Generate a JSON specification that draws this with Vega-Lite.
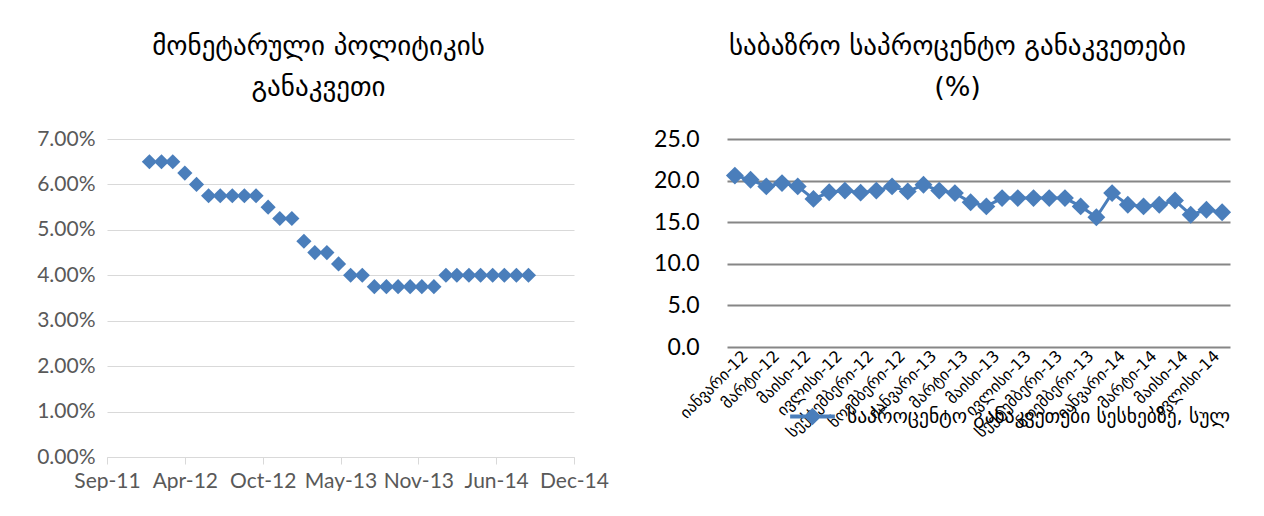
{
  "$schema": "https://vega.github.io/schema/vega-lite/v6.json",
  "background": "white",
  "padding": {"left": 0, "top": 33, "right": 0, "bottom": 0},
  "autosize": {"type": "pad"},
  "bounds": "flush",
  "spacing": 153,
  "config": {
    "view": {"stroke": null},
    "title": {"font": "DejaVu Sans", "fontWeight": "normal", "fontSize": 27, "color": "#000000", "lineHeight": 41, "anchor": "middle"}
  },
  "hconcat": [
    {
      "width": 467,
      "height": 318,
      "title": {"text": ["მონეტარული პოლიტიკის", "განაკვეთი"], "dx": -22, "offset": 26},
      "data": {"values": [
        {"date": "2012-01-01", "rate": 0.065},
        {"date": "2012-02-01", "rate": 0.065},
        {"date": "2012-03-01", "rate": 0.065},
        {"date": "2012-04-01", "rate": 0.0625},
        {"date": "2012-05-01", "rate": 0.06},
        {"date": "2012-06-01", "rate": 0.0575},
        {"date": "2012-07-01", "rate": 0.0575},
        {"date": "2012-08-01", "rate": 0.0575},
        {"date": "2012-09-01", "rate": 0.0575},
        {"date": "2012-10-01", "rate": 0.0575},
        {"date": "2012-11-01", "rate": 0.055},
        {"date": "2012-12-01", "rate": 0.0525},
        {"date": "2013-01-01", "rate": 0.0525},
        {"date": "2013-02-01", "rate": 0.0475},
        {"date": "2013-03-01", "rate": 0.045},
        {"date": "2013-04-01", "rate": 0.045},
        {"date": "2013-05-01", "rate": 0.0425},
        {"date": "2013-06-01", "rate": 0.04},
        {"date": "2013-07-01", "rate": 0.04},
        {"date": "2013-08-01", "rate": 0.0375},
        {"date": "2013-09-01", "rate": 0.0375},
        {"date": "2013-10-01", "rate": 0.0375},
        {"date": "2013-11-01", "rate": 0.0375},
        {"date": "2013-12-01", "rate": 0.0375},
        {"date": "2014-01-01", "rate": 0.0375},
        {"date": "2014-02-01", "rate": 0.04},
        {"date": "2014-03-01", "rate": 0.04},
        {"date": "2014-04-01", "rate": 0.04},
        {"date": "2014-05-01", "rate": 0.04},
        {"date": "2014-06-01", "rate": 0.04},
        {"date": "2014-07-01", "rate": 0.04},
        {"date": "2014-08-01", "rate": 0.04},
        {"date": "2014-09-01", "rate": 0.04}
      ]},
      "mark": {"type": "point", "shape": "diamond", "filled": true, "size": 230, "opacity": 1, "color": "#4a7ebb"},
      "encoding": {
        "x": {
          "field": "date", "type": "temporal",
          "scale": {"type": "utc", "domain": [
            {"year": 2011, "month": 9, "date": 14, "utc": true},
            {"year": 2014, "month": 12, "date": 27, "utc": true}
          ]},
          "axis": {
            "title": null,
            "values": [
              {"year": 2011, "month": 9, "date": 14, "utc": true},
              {"year": 2012, "month": 4, "date": 1, "utc": true},
              {"year": 2012, "month": 10, "date": 18, "utc": true},
              {"year": 2013, "month": 5, "date": 6, "utc": true},
              {"year": 2013, "month": 11, "date": 22, "utc": true},
              {"year": 2014, "month": 6, "date": 10, "utc": true},
              {"year": 2014, "month": 12, "date": 27, "utc": true}
            ],
            "format": "%b-%y",
            "grid": false,
            "domain": true, "domainColor": "#d9d9d9", "domainWidth": 1,
            "ticks": true, "tickColor": "#d9d9d9", "tickSize": 7,
            "labelPadding": 6, "labelFont": "Lato", "labelFontSize": 21, "labelColor": "#595959",
            "labelOverlap": false, "labelFlush": false
          }
        },
        "y": {
          "field": "rate", "type": "quantitative",
          "scale": {"domain": [0, 0.07], "nice": false},
          "axis": {
            "title": null,
            "values": [0, 0.01, 0.02, 0.03, 0.04, 0.05, 0.06, 0.07],
            "format": ".2%",
            "grid": true, "gridColor": "#d9d9d9", "gridWidth": 1,
            "domain": false, "ticks": false,
            "labelPadding": 12, "labelFont": "Lato", "labelFontSize": 21, "labelColor": "#595959",
            "minExtent": 107, "maxExtent": 107
          }
        }
      }
    },
    {
      "width": 503,
      "height": 208,
      "title": {"text": ["საბაზრო საპროცენტო განაკვეთები", "(%)"], "dx": -21, "offset": 26},
      "data": {"values": [
        {"month": "იანვარი-12", "rate": 20.6, "series": "საპროცენტო განაკვეთები სესხებზე, სულ"},
        {"month": "თებერვალი-12", "rate": 20.1, "series": "საპროცენტო განაკვეთები სესხებზე, სულ"},
        {"month": "მარტი-12", "rate": 19.3, "series": "საპროცენტო განაკვეთები სესხებზე, სულ"},
        {"month": "აპრილი-12", "rate": 19.7, "series": "საპროცენტო განაკვეთები სესხებზე, სულ"},
        {"month": "მაისი-12", "rate": 19.3, "series": "საპროცენტო განაკვეთები სესხებზე, სულ"},
        {"month": "ივნისი-12", "rate": 17.8, "series": "საპროცენტო განაკვეთები სესხებზე, სულ"},
        {"month": "ივლისი-12", "rate": 18.6, "series": "საპროცენტო განაკვეთები სესხებზე, სულ"},
        {"month": "აგვისტო-12", "rate": 18.8, "series": "საპროცენტო განაკვეთები სესხებზე, სულ"},
        {"month": "სექტემბერი-12", "rate": 18.55, "series": "საპროცენტო განაკვეთები სესხებზე, სულ"},
        {"month": "ოქტომბერი-12", "rate": 18.8, "series": "საპროცენტო განაკვეთები სესხებზე, სულ"},
        {"month": "ნოემბერი-12", "rate": 19.3, "series": "საპროცენტო განაკვეთები სესხებზე, სულ"},
        {"month": "დეკემბერი-12", "rate": 18.7, "series": "საპროცენტო განაკვეთები სესხებზე, სულ"},
        {"month": "იანვარი-13", "rate": 19.5, "series": "საპროცენტო განაკვეთები სესხებზე, სულ"},
        {"month": "თებერვალი-13", "rate": 18.8, "series": "საპროცენტო განაკვეთები სესხებზე, სულ"},
        {"month": "მარტი-13", "rate": 18.5, "series": "საპროცენტო განაკვეთები სესხებზე, სულ"},
        {"month": "აპრილი-13", "rate": 17.4, "series": "საპროცენტო განაკვეთები სესხებზე, სულ"},
        {"month": "მაისი-13", "rate": 16.9, "series": "საპროცენტო განაკვეთები სესხებზე, სულ"},
        {"month": "ივნისი-13", "rate": 17.9, "series": "საპროცენტო განაკვეთები სესხებზე, სულ"},
        {"month": "ივლისი-13", "rate": 17.9, "series": "საპროცენტო განაკვეთები სესხებზე, სულ"},
        {"month": "აგვისტო-13", "rate": 17.9, "series": "საპროცენტო განაკვეთები სესხებზე, სულ"},
        {"month": "სექტემბერი-13", "rate": 17.9, "series": "საპროცენტო განაკვეთები სესხებზე, სულ"},
        {"month": "ოქტომბერი-13", "rate": 17.9, "series": "საპროცენტო განაკვეთები სესხებზე, სულ"},
        {"month": "ნოემბერი-13", "rate": 16.9, "series": "საპროცენტო განაკვეთები სესხებზე, სულ"},
        {"month": "დეკემბერი-13", "rate": 15.6, "series": "საპროცენტო განაკვეთები სესხებზე, სულ"},
        {"month": "იანვარი-14", "rate": 18.5, "series": "საპროცენტო განაკვეთები სესხებზე, სულ"},
        {"month": "თებერვალი-14", "rate": 17.1, "series": "საპროცენტო განაკვეთები სესხებზე, სულ"},
        {"month": "მარტი-14", "rate": 16.9, "series": "საპროცენტო განაკვეთები სესხებზე, სულ"},
        {"month": "აპრილი-14", "rate": 17.1, "series": "საპროცენტო განაკვეთები სესხებზე, სულ"},
        {"month": "მაისი-14", "rate": 17.6, "series": "საპროცენტო განაკვეთები სესხებზე, სულ"},
        {"month": "ივნისი-14", "rate": 15.9, "series": "საპროცენტო განაკვეთები სესხებზე, სულ"},
        {"month": "ივლისი-14", "rate": 16.5, "series": "საპროცენტო განაკვეთები სესხებზე, სულ"},
        {"month": "აგვისტო-14", "rate": 16.2, "series": "საპროცენტო განაკვეთები სესხებზე, სულ"}
      ]},
      "encoding": {
        "x": {
          "field": "month", "type": "ordinal", "sort": null,
          "scale": {"type": "point", "padding": 0.5},
          "axis": {
            "title": null,
            "values": ["იანვარი-12", "მარტი-12", "მაისი-12", "ივლისი-12", "სექტემბერი-12", "ნოემბერი-12", "იანვარი-13", "მარტი-13", "მაისი-13", "ივლისი-13", "სექტემბერი-13", "ნოემბერი-13", "იანვარი-14", "მარტი-14", "მაისი-14", "ივლისი-14"],
            "labelAngle": -45, "labelAlign": "right", "labelBaseline": "middle",
            "labelFont": "DejaVu Sans", "labelFontSize": 16, "labelColor": "#000000",
            "labelPadding": 6, "labelOffset": 10, "labelOverlap": false, "labelBound": false,
            "domain": false, "ticks": false, "grid": false
          }
        },
        "y": {
          "field": "rate", "type": "quantitative",
          "scale": {"domain": [0, 25], "nice": false},
          "axis": {
            "title": null,
            "values": [0, 5, 10, 15, 20, 25],
            "format": ".1f",
            "grid": true, "gridColor": "#868686", "gridWidth": 2,
            "domain": false, "ticks": false,
            "labelPadding": 28, "labelFont": "Lato", "labelFontSize": 23, "labelColor": "#000000"
          }
        },
        "color": {
          "field": "series", "type": "nominal",
          "scale": {"range": ["#4a7ebb"]},
          "legend": {
            "title": null, "orient": "none", "legendX": 681, "legendY": 253,
            "symbolType": "M-1,0L1,0M-0.27,0L0,-0.27L0.27,0L0,0.27Z",
            "symbolSize": 2000, "symbolStrokeWidth": 4, "symbolFillColor": "#4a7ebb", "symbolStrokeColor": "#4a7ebb",
            "labelFont": "DejaVu Sans", "labelFontSize": 19.5, "labelColor": "#000000", "labelLimit": 500, "labelOffset": 10
          }
        }
      },
      "layer": [
        {"mark": {"type": "line", "strokeWidth": 3}},
        {"mark": {"type": "point", "shape": "diamond", "filled": true, "size": 320, "opacity": 1}}
      ]
    }
  ]
}
